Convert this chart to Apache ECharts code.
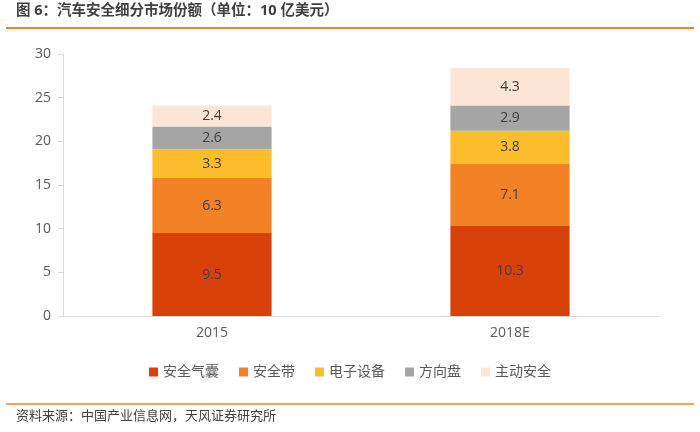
<!DOCTYPE html>
<html><head><meta charset="utf-8">
<script src="https://cdn.jsdelivr.net/npm/echarts@6/dist/echarts.min.js"></script>
<style>html,body{margin:0;padding:0;background:#fff}#c{width:700px;height:432px}</style>
</head><body><div id="c"></div>
<script>
const categories = ['2015', '2018E'];
const seriesNames = ['安全气囊', '安全带', '电子设备', '方向盘', '主动安全'];
const airbag = [9.5, 10.3];
const seatbelt = [6.3, 7.1];
const electronics = [3.3, 3.8];
const steering = [2.6, 2.9];
const active = [2.4, 4.3];
const yTicks = [0, 5, 10, 15, 20, 25, 30];
const colors = ['#D9410A', '#F28225', '#FBBD2B', '#A5A5A5', '#FCE4D6'];
const dataSets = [airbag, seatbelt, electronics, steering, active];
const font = '"Open Sans", "Noto Sans CJK SC", sans-serif';

const chart = echarts.init(document.getElementById('c'));
chart.setOption({
  animation: false,
  textStyle: { fontFamily: font },
  grid: { left: 63, right: 41, top: 54, bottom: 116 },
  legend: {
    bottom: 48, left: 'center', itemWidth: 9, itemHeight: 9, itemGap: 20,
    icon: 'rect',
    textStyle: { fontSize: 14, color: '#595959', fontFamily: font },
    data: seriesNames
  },
  xAxis: {
    type: 'category', data: categories,
    axisLine: { lineStyle: { color: '#D9D9D9' } },
    axisTick: { show: false },
    axisLabel: { color: '#595959', fontSize: 14, margin: 10 }
  },
  yAxis: {
    type: 'value', min: yTicks[0], max: yTicks[yTicks.length - 1], interval: 5,
    axisLine: { show: true, lineStyle: { color: '#D9D9D9' } },
    axisTick: { show: true, length: 5, lineStyle: { color: '#D9D9D9' } },
    splitLine: { show: false },
    axisLabel: { color: '#595959', fontSize: 14, margin: 12 }
  },
  series: dataSets.map((d, i) => ({
    name: seriesNames[i], type: 'bar', stack: 'total', data: d,
    barWidth: '40%',
    itemStyle: { color: colors[i] },
    label: { show: true, position: 'inside', color: '#404040', fontSize: 14, fontFamily: font }
  })),
  graphic: [
    { type: 'text', left: 16, top: 4, style: { text: '图 6：汽车安全细分市场份额（单位：10 亿美元）', fill: '#404040', font: 'bold 14.5px ' + font } },
    { type: 'line', shape: { x1: 6, y1: 28, x2: 694, y2: 28 }, style: { stroke: '#F28225', lineWidth: 2 } },
    { type: 'line', shape: { x1: 6, y1: 404, x2: 694, y2: 404 }, style: { stroke: '#F28225', lineWidth: 1.5 } },
    { type: 'text', left: 16, top: 410, style: { text: '资料来源：中国产业信息网，天风证券研究所', fill: '#404040', font: '13px ' + font } }
  ]
});
</script></body></html>
